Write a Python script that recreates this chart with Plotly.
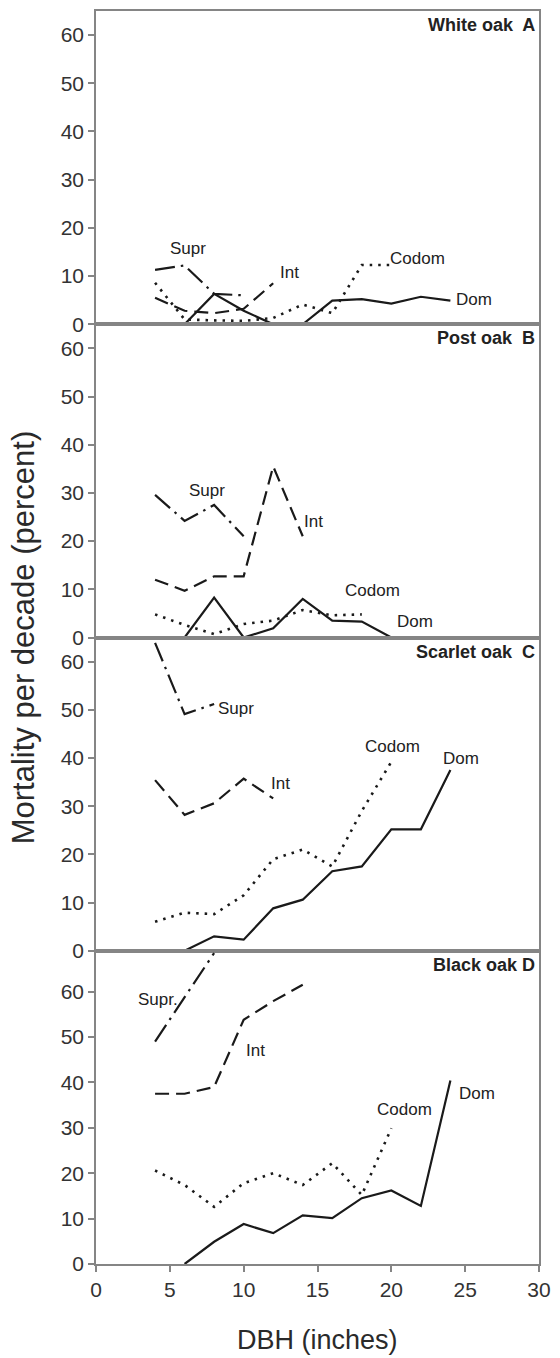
import plotly.graph_objects as go

# ---------------- data ----------------
panels = ["White oak  A", "Post oak  B", "Scarlet oak  C", "Black oak D"]

# Panel A - White oak
a_dom_x = [6, 8, 10, 12, 14, 16, 18, 20, 22, 24]
a_dom_y = [0, 6.3, 2.8, 0, 0, 4.9, 5.2, 4.3, 5.7, 4.9]
a_cod_x = [4, 6, 8, 10, 12, 14, 16, 18, 20]
a_cod_y = [8.6, 1.0, 0.8, 0.7, 1.3, 4.1, 2.3, 12.3, 12.3]
a_int_x = [4, 6, 8, 10, 12]
a_int_y = [5.5, 2.8, 2.3, 3.2, 8.5]
a_sup_x = [4, 6, 8, 10]
a_sup_y = [11.3, 12.2, 6.3, 6.0]

# Panel B - Post oak
b_dom_x = [6, 8, 10, 12, 14, 16, 18, 20]
b_dom_y = [0, 8.3, 0, 1.9, 8.0, 3.5, 3.3, 0]
b_cod_x = [4, 6, 8, 10, 12, 14, 16, 18]
b_cod_y = [4.8, 2.6, 0.7, 2.8, 3.5, 5.7, 4.6, 4.8]
b_int_x = [4, 6, 8, 10, 12, 14]
b_int_y = [12.0, 9.7, 12.7, 12.7, 35.5, 21.0]
b_sup_x = [4, 6, 8, 10]
b_sup_y = [29.6, 24.2, 27.5, 21.0]

# Panel C - Scarlet oak
c_dom_x = [4, 6, 8, 10, 12, 14, 16, 18, 20, 22, 24]
c_dom_y = [0, 0, 3.0, 2.3, 8.8, 10.6, 16.5, 17.5, 25.2, 25.2, 37.5]
c_cod_x = [4, 6, 8, 10, 12, 14, 16, 18, 20]
c_cod_y = [6.0, 7.9, 7.6, 11.5, 19.0, 21.0, 17.5, 29.0, 39.2]
c_int_x = [4, 6, 8, 10, 12]
c_int_y = [35.4, 28.2, 30.6, 35.7, 31.6]
c_sup_x = [4, 6, 8]
c_sup_y = [63.9, 49.1, 51.2]

# Panel D - Black oak
d_dom_x = [6, 8, 10, 12, 14, 16, 18, 20, 22, 24]
d_dom_y = [0, 4.9, 8.8, 6.8, 10.7, 10.1, 14.5, 16.2, 12.8, 40.4]
d_cod_x = [4, 6, 8, 10, 12, 14, 16, 18, 20]
d_cod_y = [20.6, 17.4, 12.6, 17.8, 20.0, 17.4, 22.2, 15.2, 29.9]
d_int_x = [4, 6, 8, 10, 12, 14]
d_int_y = [37.5, 37.5, 39.0, 53.8, 57.9, 61.5]
d_sup_x = [4, 6, 8]
d_sup_y = [49.0, 58.8, 68.5]

# label positions (text, x, y) per panel
a_labels = [("Supr", 6.2, 15.8), ("Int", 13.1, 10.8), ("Codom", 21.8, 13.7), ("Dom", 25.6, 5.2)]
b_labels = [("Supr", 7.5, 30.6), ("Int", 14.7, 24.1), ("Codom", 18.7, 9.7), ("Dom", 21.6, 3.3)]
c_labels = [("Supr", 9.5, 50.2), ("Int", 12.5, 34.8), ("Codom", 20.1, 42.3), ("Dom", 24.7, 39.9)]
d_labels = [("Supr.", 4.2, 58.2), ("Int", 10.8, 47.0), ("Codom", 20.9, 34.1), ("Dom", 25.8, 37.5)]

y_tick_vals = [0, 10, 20, 30, 40, 50, 60]
x_tick_vals = [0, 5, 10, 15, 20, 25, 30]
y_ranges = [[0, 65], [0, 65], [0, 65], [0, 69]]

# ---------------- figure ----------------
FONT = "Arial, Liberation Sans, sans-serif"
INK = "#1a1a1a"
FRAME = "#858585"

styles = {
    "dom": dict(dash="solid", width=2.2),
    "cod": dict(dash="2.5px,6px", width=2.6),
    "int": dict(dash="14px,7px", width=2.2),
    "sup": dict(dash="20px,6px,2.5px,6px", width=2.2),
}

series = [
    [(a_dom_x, a_dom_y, "dom"), (a_cod_x, a_cod_y, "cod"), (a_int_x, a_int_y, "int"), (a_sup_x, a_sup_y, "sup")],
    [(b_dom_x, b_dom_y, "dom"), (b_cod_x, b_cod_y, "cod"), (b_int_x, b_int_y, "int"), (b_sup_x, b_sup_y, "sup")],
    [(c_dom_x, c_dom_y, "dom"), (c_cod_x, c_cod_y, "cod"), (c_int_x, c_int_y, "int"), (c_sup_x, c_sup_y, "sup")],
    [(d_dom_x, d_dom_y, "dom"), (d_cod_x, d_cod_y, "cod"), (d_int_x, d_int_y, "int"), (d_sup_x, d_sup_y, "sup")],
]
labels = [a_labels, b_labels, c_labels, d_labels]

fig = go.Figure()
annotations = []
for i in range(4):
    n = "" if i == 0 else str(i + 1)
    for xs, ys, key in series[i]:
        st = styles[key]
        fig.add_trace(go.Scatter(
            x=xs, y=ys, mode="lines", xaxis="x" + n, yaxis="y" + n,
            line=dict(color=INK, width=st["width"], dash=st["dash"]),
            showlegend=False, hoverinfo="skip", cliponaxis=False,
        ))
    for txt, lx, ly in labels[i]:
        annotations.append(dict(
            text=txt, x=lx, y=ly, xref="x" + n, yref="y" + n,
            showarrow=False, xanchor="center", yanchor="middle",
            font=dict(family=FONT, size=17, color="#222222"),
        ))
    annotations.append(dict(
        text="<b>" + panels[i] + "</b>", x=0.995, y=1, xref="x" + n + " domain", yref="y" + n + " domain",
        xanchor="right", yanchor="middle", yshift=-14, showarrow=False,
        font=dict(family=FONT, size=18, color="#222222"),
    ))

layout = dict(
    width=560, height=1358,
    margin=dict(l=96, r=16, t=9, b=94),
    paper_bgcolor="white", plot_bgcolor="white",
    showlegend=False,
)
for i in range(4):
    n = "" if i == 0 else str(i + 1)
    lo = (3 - i) / 4.0
    hi = (4 - i) / 4.0
    bottom = (i == 3)
    layout["xaxis" + n] = dict(
        domain=[0, 1], range=[0, 30], anchor="y" + n,
        showline=True, linecolor=FRAME, linewidth=1.5, mirror=True,
        showgrid=False, zeroline=False,
        tickvals=x_tick_vals if bottom else [],
        ticks="outside" if bottom else "", ticklen=6, tickcolor=FRAME, tickwidth=1.5,
        showticklabels=bottom,
        tickfont=dict(family=FONT, size=21, color="#333333"),
        **({"matches": "x"} if i > 0 else {}),
    )
    layout["yaxis" + n] = dict(
        domain=[lo, hi], range=y_ranges[i], anchor="x" + n,
        showline=True, linecolor=FRAME, linewidth=1.5, mirror=True,
        showgrid=False, zeroline=False,
        tickvals=y_tick_vals, ticks="outside", ticklen=6, tickcolor=FRAME, tickwidth=1.5,
        tickfont=dict(family=FONT, size=21, color="#333333"),
    )

annotations.append(dict(
    text="Mortality per decade (percent)", x=-0.163, y=0.5, xref="paper", yref="paper",
    textangle=-90, showarrow=False, xanchor="center", yanchor="middle",
    font=dict(family=FONT, size=31, color="#2a2a2a"),
))
annotations.append(dict(
    text="DBH (inches)", x=0.5, y=-0.0605, xref="paper", yref="paper",
    showarrow=False, xanchor="center", yanchor="middle",
    font=dict(family=FONT, size=27, color="#2a2a2a"),
))
layout["annotations"] = annotations
fig.update_layout(**layout)
fig.write_html("out.html",
               config={"displayModeBar": False},
               post_script="document.body.style.margin='0';document.body.style.padding='0';")
